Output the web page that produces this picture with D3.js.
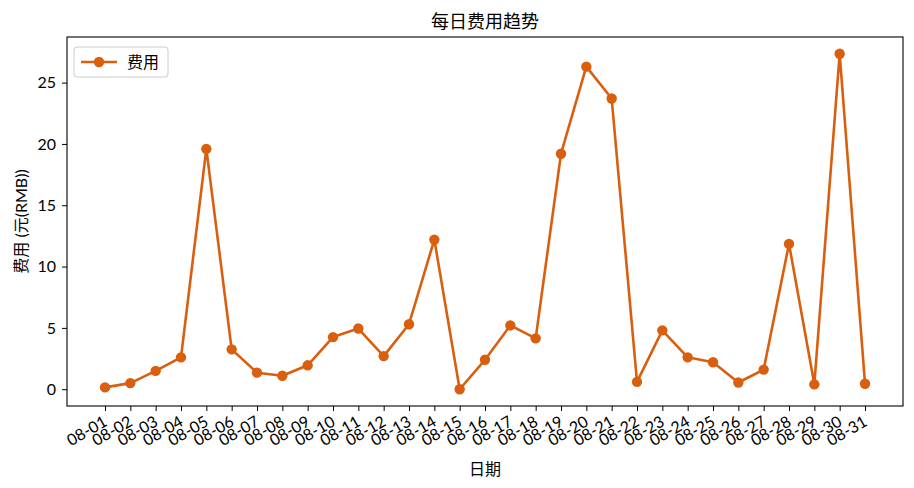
<!DOCTYPE html>
<html>
<head>
<meta charset="utf-8">
<script src="https://cdn.jsdelivr.net/npm/d3@7"></script>
<style>
  body { margin: 0; background: #fff; }
  text { font-family: "Lato", "Noto Sans CJK SC", sans-serif; fill: #000; }
</style>
</head>
<body>
<svg id="chart"></svg>
<script>
// Data
const dates = ["08-01", "08-02", "08-03", "08-04", "08-05", "08-06", "08-07", "08-08",
  "08-09", "08-10", "08-11", "08-12", "08-13", "08-14", "08-15", "08-16", "08-17",
  "08-18", "08-19", "08-20", "08-21", "08-22", "08-23", "08-24", "08-25", "08-26",
  "08-27", "08-28", "08-29", "08-30", "08-31"];
const costs = [0.15, 0.5, 1.5, 2.6, 19.6, 3.25, 1.35, 1.1, 1.95, 4.25, 4.95, 2.7, 5.3,
  12.2, 0.0, 2.4, 5.2, 4.15, 19.2, 26.3, 23.7, 0.6, 4.8, 2.6, 2.2, 0.55, 1.6, 11.85,
  0.4, 27.35, 0.45];
const yTicks = [0, 5, 10, 15, 20, 25];

const width = 914;
const height = 488;
const color = "#d95f0e";
const lineW = 2.6;
const dotR = 5.2;
const plot = { left: 67, right: 903, top: 37, bottom: 406 }; // axes box

const svg = d3.select("#chart")
  .attr("width", width)
  .attr("height", height);

// matplotlib style 5% margins
const n = dates.length;
const x = d3.scaleLinear()
  .domain([-0.05 * (n - 1), (n - 1) * 1.05])
  .range([plot.left, plot.right]);
const [ymin, ymax] = d3.extent(costs);
const pad = (ymax - ymin) * 0.05;
const y = d3.scaleLinear()
  .domain([ymin - pad, ymax + pad])
  .range([plot.bottom, plot.top]);

// Axes
const xAxis = svg.append("g")
  .attr("transform", `translate(0,${plot.bottom})`)
  .call(d3.axisBottom(x)
    .tickValues(d3.range(n))
    .tickFormat(i => dates[i])
    .tickSize(5));
xAxis.select(".domain").remove();
xAxis.selectAll("text")
  .attr("font-size", 16)
  .attr("text-anchor", "end")
  .attr("dy", "0.35em")
  .attr("transform", "translate(0,14) rotate(-30)")
  .attr("y", 0)
  .attr("x", 0);

const yAxis = svg.append("g")
  .attr("transform", `translate(${plot.left},0)`)
  .call(d3.axisLeft(y).tickValues(yTicks).tickSize(5).tickPadding(6));
yAxis.select(".domain").remove();
yAxis.selectAll("text").attr("font-size", 16);

svg.selectAll(".tick line").attr("stroke", "#000").attr("stroke-width", 1);

// Frame
svg.append("rect")
  .attr("x", plot.left)
  .attr("y", plot.top)
  .attr("width", plot.right - plot.left)
  .attr("height", plot.bottom - plot.top)
  .attr("fill", "none")
  .attr("stroke", "#000")
  .attr("stroke-width", 1.1);

// Line and markers
svg.append("path")
  .datum(costs)
  .attr("fill", "none")
  .attr("stroke", color)
  .attr("stroke-width", lineW)
  .attr("stroke-linejoin", "round")
  .attr("d", d3.line().x((d, i) => x(i)).y(d => y(d)));

svg.selectAll(".dot")
  .data(costs)
  .join("circle")
  .attr("class", "dot")
  .attr("cx", (d, i) => x(i))
  .attr("cy", d => y(d))
  .attr("r", dotR)
  .attr("fill", color);

// Title and axis labels
svg.append("text")
  .attr("x", (plot.left + plot.right) / 2)
  .attr("y", 28)
  .attr("text-anchor", "middle")
  .attr("font-size", 18)
  .text("每日费用趋势");

svg.append("text")
  .attr("x", (plot.left + plot.right) / 2)
  .attr("y", 475)
  .attr("text-anchor", "middle")
  .attr("font-size", 16)
  .text("日期");

svg.append("text")
  .attr("transform", `translate(27,${(plot.top + plot.bottom) / 2}) rotate(-90)`)
  .attr("text-anchor", "middle")
  .attr("font-size", 16)
  .text("费用 (元(RMB))");

// Legend
const legend = svg.append("g").attr("transform", "translate(74,47)");
legend.append("rect")
  .attr("width", 94)
  .attr("height", 30)
  .attr("rx", 3)
  .attr("fill", "#fff")
  .attr("stroke", "#ccc")
  .attr("stroke-width", 1);
legend.append("line")
  .attr("x1", 7).attr("x2", 43)
  .attr("y1", 15).attr("y2", 15)
  .attr("stroke", color)
  .attr("stroke-width", lineW);
legend.append("circle")
  .attr("cx", 25).attr("cy", 15).attr("r", dotR)
  .attr("fill", color);
legend.append("text")
  .attr("x", 53)
  .attr("y", 21)
  .attr("font-size", 16)
  .text("费用");
</script>
</body>
</html>
